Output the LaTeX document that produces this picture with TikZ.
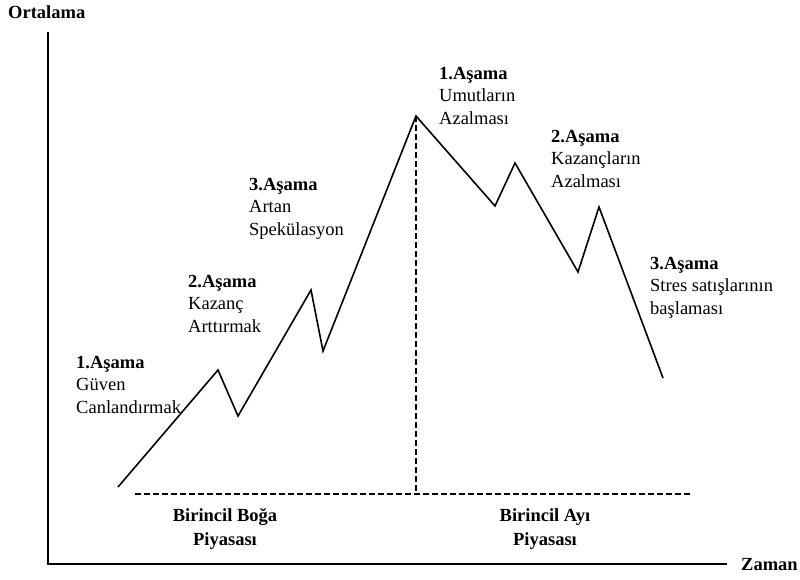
\documentclass[tikz,border=0pt]{standalone}
\usepackage{fontspec}
\setmainfont{Liberation Serif}
\begin{document}
\begin{tikzpicture}[x=1pt,y=-1pt,
  axis/.style={line width=1.8pt},
  trend/.style={line width=1.6pt, line join=miter},
  guide/.style={line width=1.5pt, dash pattern=on 6pt off 3pt},
  phase/.style={anchor=north west, inner sep=0pt, align=left,
    font=\fontsize{18.5}{22.5}\selectfont},
  market/.style={anchor=north, inner sep=0pt, align=center,
    font=\fontsize{18.5}{24}\selectfont\bfseries},
  axislabel/.style={inner sep=0pt, font=\fontsize{18.5}{22}\selectfont\bfseries}]
\useasboundingbox (0,0) rectangle (800,579);

% axes
\coordinate (ytop) at (48,32);
\coordinate (orig) at (48,564);
\coordinate (xend) at (727,564);
\draw[axis] (ytop) -- (orig) -- (xend);
\node[axislabel, anchor=west] (ylab) at (8,12) {Ortalama};
\node[axislabel, anchor=west] (xlab) at (741,565) {Zaman};

% price path
\coordinate (p0) at (118,487);
\coordinate (p1) at (218,370);
\coordinate (p2) at (238,416);
\coordinate (p3) at (311,290);
\coordinate (p4) at (323,351);
\coordinate (peak) at (416,116);
\coordinate (p6) at (495,206);
\coordinate (p7) at (515,163);
\coordinate (p8) at (578,272);
\coordinate (p9) at (599,207);
\coordinate (p10) at (663,378);
\draw[trend] (p0) -- (p1) -- (p2) -- (p3) -- (p4) -- (peak) -- (p6) -- (p7) -- (p8) -- (p9) -- (p10);

% market split
\coordinate (base) at (416,494);
\coordinate (bl) at (135,494);
\coordinate (br) at (692,494);
\draw[guide] (peak) -- (base);
\draw[guide] (bl) -- (br);

% phase labels
\node[phase] (b1) at (76,356) {\textbf{1.Aşama}\\Güven\\Canlandırmak};
\node[phase] (b2) at (188,275) {\textbf{2.Aşama}\\Kazanç\\Arttırmak};
\node[phase] (b3) at (249,178) {\textbf{3.Aşama}\\Artan\\Spekülasyon};
\node[phase] (s1) at (439,67) {\textbf{1.Aşama}\\Umutların\\Azalması};
\node[phase] (s2) at (551,130) {\textbf{2.Aşama}\\Kazançların\\Azalması};
\node[phase] (s3) at (650,257) {\textbf{3.Aşama}\\Stres satışlarının\\başlaması};

% market labels
\node[market] (bull) at (225,508) {Birincil Boğa\\Piyasası};
\node[market] (bear) at (545,508) {Birincil Ayı\\Piyasası};
\end{tikzpicture}
\end{document}
